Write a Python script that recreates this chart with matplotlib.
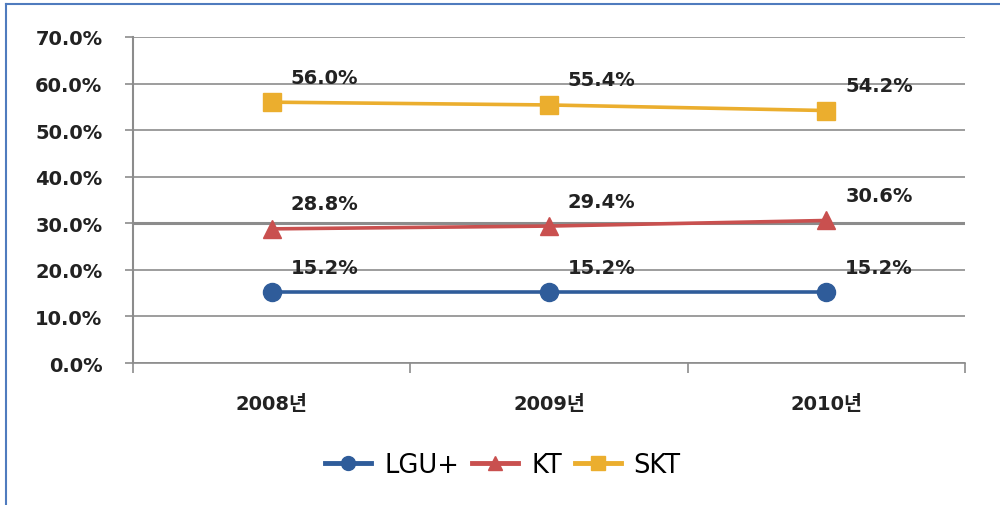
import matplotlib.pyplot as plt
from matplotlib.lines import Line2D

plt.rcParams['font.family'] = ['DejaVu Sans', 'Noto Sans CJK KR']

years = ['2008년', '2009년', '2010년']
lgu = [15.2, 15.2, 15.2]
kt = [28.8, 29.4, 30.6]
skt = [56.0, 55.4, 54.2]
yticks = [0, 10, 20, 30, 40, 50, 60, 70]

fig = plt.figure(figsize=(10, 5.06), dpi=100)
ax = fig.add_axes([0.133, 0.2806, 0.832, 0.6444])

x = range(len(years))
ax.plot(x, lgu, color='#2F5C9A', lw=2.6, marker='o', ms=13, label='LGU+', zorder=3)
ax.plot(x, kt, color='#C9504F', lw=2.6, marker='^', ms=13, label='KT', zorder=3)
ax.plot(x, skt, color='#EBAE2E', lw=2.6, marker='s', ms=12.5, label='SKT', zorder=3)

for series in (lgu, kt, skt):
    for i, v in enumerate(series):
        ax.annotate(f'{v:.1f}%', (i, v), xytext=(38, 18), textcoords='offset points',
                    ha='center', va='center', fontsize=14, fontweight='bold',
                    color='#222222')

ax.set_xlim(-0.5, 2.5)
ax.set_ylim(0, 70)
ax.set_yticks(yticks)
ax.set_yticklabels([f'{t:.1f}%' for t in yticks], fontsize=14, fontweight='bold',
                   color='#222222')
for t in yticks:
    ax.axhline(t, color='#8c8c8c', lw=2.2 if t == 30 else 1.2, zorder=1)

ax.set_xticks([-0.5, 0.5, 1.5, 2.5])
ax.set_xticklabels([])
ax.set_xticks(list(x), minor=True)
ax.set_xticklabels(years, minor=True, fontsize=14, fontweight='bold', color='#222222')
ax.tick_params(axis='x', which='minor', length=0, pad=22)
ax.tick_params(axis='x', which='major', length=7, width=1.2, color='#8c8c8c')
ax.tick_params(axis='y', length=6, width=1.2, color='#8c8c8c', pad=16)

for s in ('top', 'right'):
    ax.spines[s].set_visible(False)
ax.spines['left'].set_color('#8c8c8c')
ax.spines['left'].set_linewidth(1.5)
ax.spines['bottom'].set_color('#8c8c8c')
ax.spines['bottom'].set_linewidth(1.2)

handles = [Line2D([], [], color=c, lw=3.5, marker=m, ms=10)
           for c, m in (('#2F5C9A', 'o'), ('#C9504F', '^'), ('#EBAE2E', 's'))]
fig.legend(handles, ['LGU+', 'KT', 'SKT'], loc='center', bbox_to_anchor=(0.503, 0.08),
           ncol=3, frameon=False, handlelength=1.8, handletextpad=0.5,
           columnspacing=0.5, prop={'family': 'DejaVu Sans', 'size': 18.5})

# blue frame around the chart
fig.add_artist(Line2D([0.006, 0.006], [0, 0.99], color='#4F7BBE', lw=1.5))
fig.add_artist(Line2D([0.006, 1.0], [0.99, 0.99], color='#4F7BBE', lw=1.5))

plt.savefig('out.png', dpi=100)
